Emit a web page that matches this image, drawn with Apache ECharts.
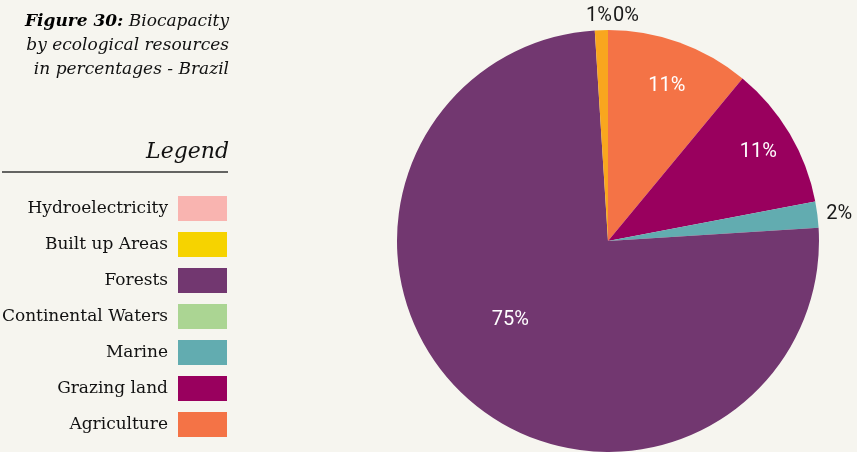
<!DOCTYPE html>
<html>
<head>
<meta charset="utf-8">
<script src="https://cdn.jsdelivr.net/npm/echarts@6/dist/echarts.min.js"></script>
<style>
  html, body { margin: 0; background: #f6f5ef; }
  #chart { width: 857px; height: 452px; }
</style>
</head>
<body>
<div id="chart"></div>
<script>
// slice order, clockwise from 12 o'clock
const categories = ['Agriculture', 'Grazing land', 'Marine', 'Continental Waters', 'Forests', 'Built up Areas', 'Hydroelectricity'];
const shares = [11, 11, 2, 0, 75, 1, 0];
const sliceColors = ['#f47346', '#99005e', '#62acb0', '#abd593', '#723770', '#f9a61e', '#f9b4b0'];
const legendColors = ['#f47346', '#99005e', '#62acb0', '#abd593', '#723770', '#f6d300', '#f9b4b0'];
const legendOrder = categories.slice().reverse();

const serif = 'DejaVu Serif';
const sans = 'Roboto';
const cx = 608, cy = 241, R = 211;

// nudges for the white labels inside the big slices
const insideShift = { 0: [22, -53], 1: [57, -34], 4: [-26, -2] };

const chart = echarts.init(document.getElementById('chart'));

const option = {
  backgroundColor: '#f6f5ef',
  animation: false,
  graphic: [
    {
      type: 'text',
      x: 229, y: 10,
      style: {
        text: '{b|Figure 30:} Biocapacity\nby ecological resources\nin percentages - Brazil',
        align: 'right',
        verticalAlign: 'top',
        font: 'italic 17px "DejaVu Serif"',
        fill: '#111',
        lineHeight: 24,
        rich: {
          b: { fontFamily: serif, fontStyle: 'italic', fontWeight: 'bold', fontSize: 17, fill: '#000', lineHeight: 24 }
        }
      }
    },
    {
      type: 'text',
      x: 229, y: 152,
      style: {
        text: 'Legend',
        align: 'right',
        verticalAlign: 'middle',
        font: 'italic 22px "DejaVu Serif"',
        fill: '#111'
      }
    },
    {
      type: 'line',
      shape: { x1: 2, y1: 172, x2: 228, y2: 172 },
      style: { stroke: '#333', lineWidth: 1.5 }
    }
  ],
  legend: {
    orient: 'vertical',
    right: 630,
    top: 196,
    padding: 0,
    align: 'right',
    icon: 'rect',
    itemWidth: 49,
    itemHeight: 25,
    itemGap: 11,
    selectedMode: false,
    textStyle: { fontFamily: serif, fontSize: 17, color: '#111', padding: [0, 5, 0, 0] },
    data: legendOrder.map(n => ({
      name: n,
      itemStyle: { color: legendColors[categories.indexOf(n)] }
    }))
  },
  series: [
    {
      type: 'pie',
      center: [cx, cy],
      radius: [0, R],
      startAngle: 90,
      clockwise: true,
      avoidLabelOverlap: false,
      emphasis: { scale: false },
      label: {
        position: 'outside',
        fontFamily: sans,
        fontStyle: 'normal',
        fontSize: 20,
        color: '#1a1a1a',
        formatter: p => p.value + '%'
      },
      labelLine: { show: false, length: 4, length2: 0 },
      labelLayout: p => {
        const s = insideShift[p.dataIndex];
        if (s) return { dx: s[0], dy: s[1] };
        // the two thin slices at the top: labels sit either side of 12 o'clock
        if (p.dataIndex === 5) return { x: cx + 4, y: cy - R - 14, align: 'right', verticalAlign: 'middle' };
        if (p.dataIndex === 6) return { x: cx + 5, y: cy - R - 14, align: 'left', verticalAlign: 'middle' };
        return {};
      },
      data: categories.map((name, i) => {
        const item = { name, value: shares[i], itemStyle: { color: sliceColors[i] } };
        if (shares[i] >= 5) item.label = { position: 'inside', color: '#fff' };
        if (name === 'Continental Waters') item.label = { show: false };
        return item;
      })
    }
  ]
};

chart.setOption(option);
window.addEventListener('resize', () => chart.resize());
</script>
</body>
</html>
